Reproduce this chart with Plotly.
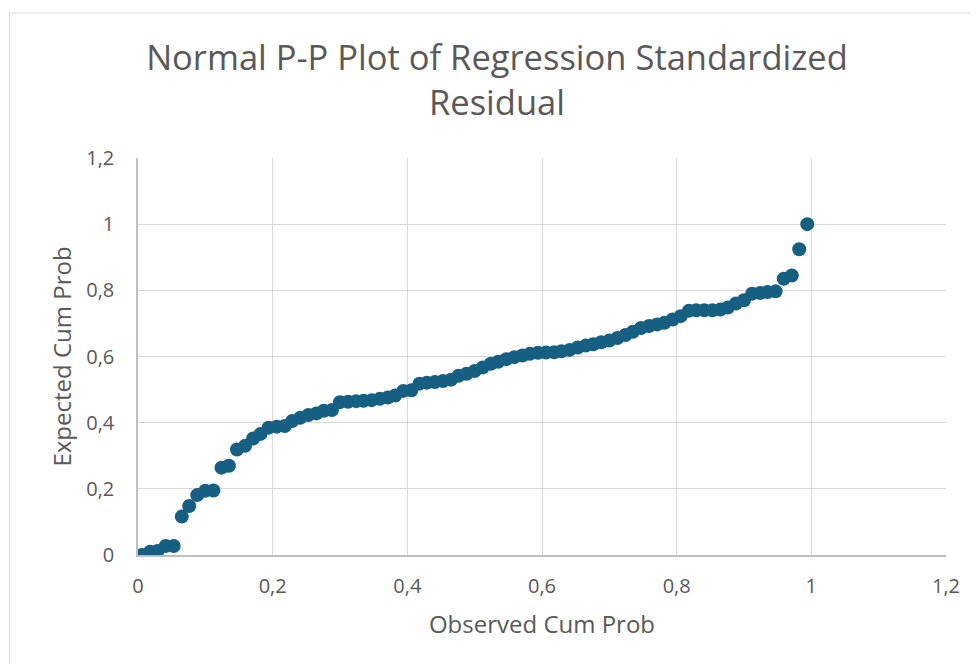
import plotly.graph_objects as go

observed_cum_prob = [
    0.006, 0.018, 0.029, 0.041, 0.053, 0.065, 0.076, 0.088, 0.100, 0.112,
    0.124, 0.135, 0.147, 0.159, 0.171, 0.182, 0.194, 0.206, 0.218, 0.229,
    0.241, 0.253, 0.265, 0.276, 0.288, 0.300, 0.312, 0.324, 0.335, 0.347,
    0.359, 0.371, 0.382, 0.394, 0.406, 0.418, 0.429, 0.441, 0.453, 0.465,
    0.476, 0.488, 0.500, 0.512, 0.524, 0.535, 0.547, 0.559, 0.571, 0.582,
    0.594, 0.606, 0.618, 0.629, 0.641, 0.653, 0.665, 0.676, 0.688, 0.700,
    0.712, 0.724, 0.735, 0.747, 0.759, 0.771, 0.782, 0.794, 0.806, 0.818,
    0.829, 0.841, 0.853, 0.865, 0.876, 0.888, 0.900, 0.912, 0.924, 0.935,
    0.947, 0.959, 0.971, 0.982, 0.994,
]
expected_cum_prob = [
    0.000, 0.010, 0.012, 0.027, 0.027, 0.116, 0.148, 0.181, 0.194, 0.195,
    0.264, 0.270, 0.319, 0.330, 0.352, 0.366, 0.385, 0.388, 0.390, 0.405,
    0.415, 0.423, 0.428, 0.436, 0.438, 0.462, 0.463, 0.465, 0.466, 0.468,
    0.472, 0.476, 0.482, 0.496, 0.498, 0.518, 0.521, 0.523, 0.526, 0.530,
    0.542, 0.548, 0.556, 0.567, 0.578, 0.584, 0.592, 0.598, 0.603, 0.608,
    0.611, 0.612, 0.613, 0.616, 0.620, 0.627, 0.633, 0.637, 0.643, 0.648,
    0.656, 0.665, 0.675, 0.686, 0.692, 0.697, 0.702, 0.712, 0.722, 0.738,
    0.740, 0.740, 0.740, 0.742, 0.748, 0.760, 0.770, 0.790, 0.792, 0.795,
    0.797, 0.835, 0.845, 0.924, 1.000,
]

title_text = "Normal P-P Plot of Regression Standardized<br>Residual"
x_title = "Observed Cum Prob"
y_title = "Expected Cum Prob"

FONT = "Open Sans"
TXT = "#595959"

fig = go.Figure(go.Scatter(
    x=observed_cum_prob, y=expected_cum_prob, mode="markers",
    marker=dict(color="#156082", size=14, line=dict(width=0)),
    hoverinfo="x+y",
))

# page offset of 8px (body margin); plot area on page: x 138..946, y 158..555
OFF = 8
L, T = 138 - OFF, 158 - OFF
pw, ph = 946 - 138, 555 - 158
R = 978 - L - pw
B = 664 - T - ph

def px_to_paper_x(p):
    return (p - OFF - L) / pw

def py_to_paper_y(p):
    return (T + ph - (p - OFF)) / ph

fig.update_layout(
    width=978, height=664,
    margin=dict(l=L, r=R, t=T, b=B, autoexpand=False),
    paper_bgcolor="white", plot_bgcolor="white",
    separators=",.",
    showlegend=False,
    font=dict(family=FONT, color=TXT),
    title=dict(text=title_text, x=0.5, xanchor="center",
               y=1 - 62 / 664, yanchor="middle", yref="container",
               font=dict(size=34.5, color=TXT, family=FONT)),
    shapes=[dict(type="rect", xref="paper", yref="paper",
                 x0=px_to_paper_x(9.5), x1=px_to_paper_x(1000),
                 y0=py_to_paper_y(700), y1=py_to_paper_y(13),
                 line=dict(color="#d9d9d9", width=1.2), layer="below")],
)
fig.update_xaxes(
    range=[0, 1.2], dtick=0.2, tick0=0, showgrid=True, gridcolor="#d9d9d9", gridwidth=1,
    zeroline=False, showline=True, linecolor="#bfbfbf", linewidth=1.5, mirror=False,
    ticks="", ticklabelstandoff=12, tickfont=dict(size=20, color=TXT, family=FONT),
    title=dict(text=x_title, font=dict(size=24, color=TXT, family=FONT), standoff=18),
    automargin=False,
)
fig.update_yaxes(
    range=[0, 1.2], dtick=0.2, tick0=0, showgrid=True, gridcolor="#d9d9d9", gridwidth=1,
    zeroline=False, showline=True, linecolor="#bfbfbf", linewidth=1.5,
    ticks="", ticklabelstandoff=18, tickfont=dict(size=20, color=TXT, family=FONT),
    title=dict(text=y_title, font=dict(size=24, color=TXT, family=FONT), standoff=8),
    automargin=False,
)

fig.write_html("out.html")
